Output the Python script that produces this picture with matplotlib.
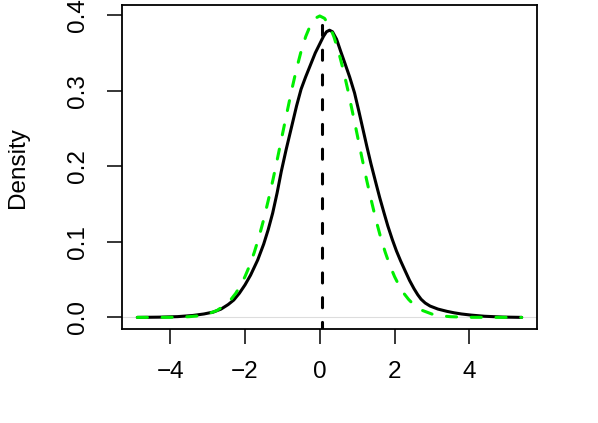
import matplotlib.pyplot as plt

# black curve: kernel density
dens_x = [-4.88, -4.3, -3.8, -3.4, -3.1, -2.85, -2.64, -2.45, -2.3, -2.15, -2.0, -1.85,
          -1.66, -1.5, -1.38, -1.26, -1.14, -1.03, -0.9, -0.75, -0.62, -0.5, -0.38,
          -0.25, -0.12, 0.0, 0.1, 0.18, 0.26, 0.34, 0.45, 0.56, 0.66, 0.8, 0.93, 1.04,
          1.15, 1.26, 1.37, 1.5, 1.6, 1.72, 1.82, 1.94, 2.05, 2.16, 2.27, 2.4, 2.52,
          2.62, 2.71, 2.82, 2.95, 3.16, 3.4, 3.6, 3.79, 4.05, 4.4, 4.9, 5.4]
dens_y = [0.0, 0.0003, 0.001, 0.0025, 0.0045, 0.007, 0.011, 0.017, 0.023, 0.032, 0.043,
          0.056, 0.076, 0.097, 0.116, 0.138, 0.165, 0.193, 0.222, 0.253, 0.280, 0.302,
          0.318, 0.334, 0.350, 0.362, 0.372, 0.378, 0.380, 0.378, 0.368, 0.352, 0.338,
          0.318, 0.297, 0.274, 0.250, 0.226, 0.203, 0.178, 0.159, 0.138, 0.121, 0.103,
          0.088, 0.075, 0.063, 0.049, 0.038, 0.030, 0.024, 0.019, 0.015, 0.011, 0.008,
          0.006, 0.0045, 0.003, 0.0015, 0.0004, 0.0]

# green dashed: normal curve
norm_x = [-4.88, -4.0, -3.5, -3.25, -3.0, -2.75, -2.5, -2.375, -2.25, -2.125, -2.0,
          -1.875, -1.75, -1.625, -1.5, -1.375, -1.25, -1.125, -1.0, -0.875, -0.75,
          -0.625, -0.5, -0.375, -0.25, -0.125, 0.0, 0.125, 0.25, 0.375, 0.5, 0.625,
          0.75, 0.875, 1.0, 1.125, 1.25, 1.375, 1.5, 1.625, 1.75, 1.875, 2.0, 2.125,
          2.25, 2.375, 2.5, 2.75, 3.0, 3.25, 3.5, 4.0, 5.4]
norm_y = [0.0, 0.0001, 0.0009, 0.0020, 0.0044, 0.0091, 0.0175, 0.0238, 0.0317, 0.0417,
          0.0540, 0.0687, 0.0863, 0.1065, 0.1295, 0.1554, 0.1826, 0.2119, 0.2420,
          0.2717, 0.3011, 0.3281, 0.3521, 0.3718, 0.3867, 0.3958, 0.3989, 0.3958,
          0.3867, 0.3718, 0.3521, 0.3281, 0.3011, 0.2717, 0.2420, 0.2119, 0.1826,
          0.1554, 0.1295, 0.1065, 0.0863, 0.0687, 0.0540, 0.0417, 0.0317, 0.0238,
          0.0175, 0.0091, 0.0044, 0.0020, 0.0009, 0.0001, 0.0]

mean_x = 0.07
mean_top = 0.398

plt.rcParams['font.family'] = ['Liberation Sans', 'DejaVu Sans']

fig = plt.figure(figsize=(5.98, 4.23), dpi=100)
ax = fig.add_axes([0.204, 0.222, 0.694, 0.766])

dash = (0, (3.3, 4.8))
ax.axhline(0, color='#dddddd', lw=0.8, zorder=1)
ax.plot(dens_x, dens_y, color='black', lw=2.2, zorder=3, solid_joinstyle='round',
        solid_capstyle='round')
ax.plot(norm_x, norm_y, color='#00ee00', lw=2.2, ls=dash, zorder=4,
        dash_capstyle='round')
ax.plot([mean_x, mean_x], [-0.02, mean_top], color='black', lw=2.2,
        ls=dash, zorder=5, dash_capstyle='round')

ax.set_xlim(-5.29, 5.81)
ax.set_ylim(-0.0155, 0.4133)
ax.set_xticks([-4, -2, 0, 2, 4])
ax.set_yticks([0.0, 0.1, 0.2, 0.3, 0.4])
ax.set_yticklabels(['0.0', '0.1', '0.2', '0.3', '0.4'])
ax.tick_params(length=11, width=1.1, labelsize=17.5, direction='out')
ax.tick_params(axis='x', pad=12)
ax.tick_params(axis='y', pad=13)
for lab in ax.get_yticklabels():
    lab.set_rotation(90)
    lab.set_va('center')
for s in ax.spines.values():
    s.set_linewidth(1.3)

ax.set_ylabel('Density', fontsize=17.5, va='center')
ax.yaxis.set_label_coords(-0.251, 0.5)

fig.savefig('out.png', dpi=100)
